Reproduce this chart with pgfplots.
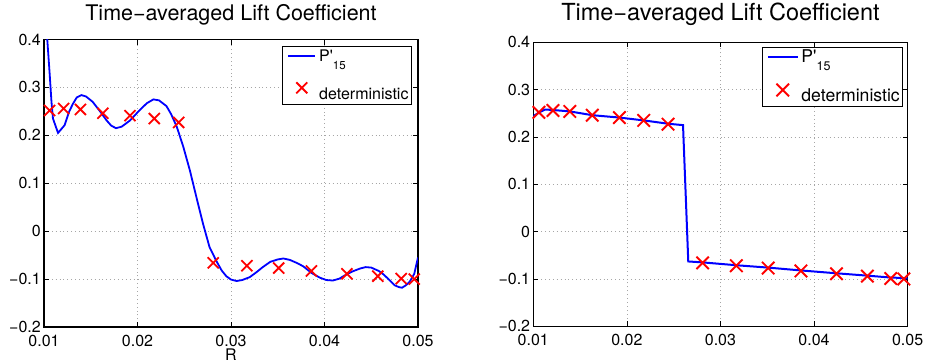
\documentclass[border=0pt]{standalone}
\usepackage{pgfplots}
\usepackage{pgfplotstable}
\pgfplotsset{compat=1.18}
\usepackage{fontspec}
\setmainfont{TeX Gyre Heros}

\pgfplotstableread{
x y
0.0100 0.500
0.01035 0.400
0.01060 0.330
0.01080 0.270
0.01096 0.235
0.01150 0.205
0.01220 0.221
0.01270 0.250
0.01310 0.266
0.01350 0.279
0.01400 0.284
0.01450 0.281
0.01520 0.270
0.01600 0.250
0.01670 0.231
0.01720 0.220
0.01770 0.215
0.01830 0.218
0.01920 0.231
0.02020 0.252
0.02100 0.267
0.02170 0.275
0.02230 0.273
0.02310 0.261
0.02360 0.244
0.02420 0.218
0.02490 0.176
0.02560 0.127
0.02630 0.071
0.02700 0.016
0.02770 -0.033
0.02840 -0.061
0.02900 -0.082
0.02950 -0.094
0.03000 -0.101
0.03060 -0.104
0.03120 -0.102
0.03200 -0.096
0.03270 -0.086
0.03340 -0.075
0.03420 -0.064
0.03500 -0.059
0.03560 -0.057
0.03630 -0.060
0.03700 -0.066
0.03770 -0.073
0.03860 -0.087
0.03950 -0.097
0.04020 -0.102
0.04090 -0.103
0.04160 -0.099
0.04220 -0.092
0.04300 -0.084
0.04380 -0.078
0.04440 -0.075
0.04500 -0.076
0.04580 -0.083
0.04630 -0.090
0.04700 -0.103
0.04750 -0.113
0.04800 -0.117
0.04830 -0.118
0.04870 -0.113
0.04910 -0.106
0.04960 -0.089
0.05000 -0.055
}\pceleft

\pgfplotstableread{
x y
0.01000 0.244
0.01064 0.252
0.01125 0.258
0.01210 0.257
0.01390 0.254
0.01630 0.246
0.01920 0.241
0.02180 0.235
0.02440 0.228
0.02600 0.225
0.02656 -0.063
0.02810 -0.065
0.03170 -0.071
0.03510 -0.076
0.03860 -0.082
0.04240 -0.088
0.04570 -0.093
0.04820 -0.097
0.04960 -0.098
0.05000 -0.099
}\pceright

\pgfplotstableread{
x y
0.0106 0.252
0.0121 0.256
0.0139 0.254
0.0163 0.246
0.0192 0.241
0.0218 0.235
0.0244 0.227
0.0281 -0.066
0.0317 -0.072
0.0351 -0.077
0.0386 -0.083
0.0424 -0.089
0.0457 -0.094
0.0482 -0.099
0.0496 -0.100
}\determ

\pgfplotsset{
  liftstyle/.style={
    scale only axis,
    xmin=0.01, xmax=0.05, ymin=-0.2, ymax=0.4,
    scaled ticks=false,
    xtick={0.01,0.02,0.03,0.04,0.05},
    xticklabels={0.01,0.02,0.03,0.04,0.05},
    ytick={-0.2,-0.1,0,0.1,0.2,0.3,0.4},
    yticklabels={−0.2,−0.1,0,0.1,0.2,0.3,0.4},
    xtick pos=both, ytick pos=both,
    xticklabel pos=lower, yticklabel pos=left,
    tick align=inside,
    major tick length=5bp,
    tick style={black, line width=0.7bp},
    axis line style={black, line width=1.1bp},
    grid=major,
    major grid style={line width=0.7bp, gray!70, dash pattern=on 0.9bp off 3bp},
    ticklabel style={font=\fontsize{16bp}{16bp}\selectfont, inner sep=0pt},
    xticklabel style={yshift=-8bp},
    yticklabel style={xshift=-3bp},
    title style={at={(axis description cs:0.5,1)}, anchor=base, inner sep=0pt},
    legend cell align=left,
    clip mode=individual,
  }
}

\begin{document}
\begin{tikzpicture}
\useasboundingbox (-44bp,-36bp) rectangle (883bp,327bp);
% left
\begin{axis}[liftstyle,
  at={(0bp,0bp)}, anchor=south west,
  width=374bp, height=287.5bp,
  title={Time−averaged Lift Coefficient},
  title style={font=\fontsize{21.5bp}{21.5bp}\selectfont, yshift=13bp},
  xlabel={R},
  xlabel style={at={(axis description cs:0.5,0)}, anchor=north, inner sep=0pt, yshift=-22bp, font=\fontsize{16bp}{16bp}\selectfont},
  legend style={at={(1,1)}, anchor=north east, xshift=-6bp, yshift=-6.7bp,
    font=\fontsize{16bp}{16bp}\selectfont, draw=black, line width=1bp,
    inner xsep=3bp, inner ysep=3bp, row sep=17.7bp, column sep=3bp,
    nodes={inner xsep=0pt, inner ysep=0pt, text height=12bp, text depth=2bp}},
]
\addplot[blue, line width=1.8bp, no markers,
  legend image code/.code={\path[draw=none] (-2.3bp,0bp) -- (27bp,0bp); \draw[blue, line width=1.8bp] (0bp,1bp) -- (27bp,1bp);}]
  table[x=x,y=y] {\pceleft};
\addlegendentry{P\textquotesingle\raisebox{-7.3bp}{\fontsize{11.5bp}{11.5bp}\selectfont 15}}
\addplot[red, only marks, mark=x, mark size=7.8bp, mark options={line width=1.8bp},
  legend image code/.code={\path[draw=none] (-2.3bp,0bp) -- (27bp,0bp); \draw[red, line width=1.8bp] (8bp,1.1bp) -- (19bp,12.1bp) (8bp,12.1bp) -- (19bp,1.1bp);}]
  table[x=x,y=y] {\determ};
\addlegendentry{deterministic}
\end{axis}
% right
\begin{axis}[liftstyle,
  at={(489.3bp,0.7bp)}, anchor=south west,
  width=374.3bp, height=284bp,
  title={Time−averaged Lift Coefficient},
  title style={font=\fontsize{23.5bp}{23.5bp}\selectfont, yshift=16.3bp},
  legend style={at={(1,1)}, anchor=north east, xshift=-4.4bp, yshift=-4.4bp,
    font=\fontsize{17.6bp}{17.6bp}\selectfont, draw=black, line width=1bp,
    inner xsep=3bp, inner ysep=3bp, row sep=18.6bp, column sep=2.7bp,
    nodes={inner xsep=0pt, inner ysep=0pt, text height=12bp, text depth=2bp}},
]
\addplot[blue, line width=2bp, no markers,
  legend image code/.code={\path[draw=none] (-2.6bp,0bp) -- (30bp,0bp); \draw[blue, line width=2bp] (0bp,0bp) -- (30bp,0bp);}]
  table[x=x,y=y] {\pceright};
\addlegendentry{P\textquotesingle\raisebox{-8bp}{\fontsize{12.5bp}{12.5bp}\selectfont 15}}
\addplot[red, only marks, mark=x, mark size=8.8bp, mark options={line width=1.9bp},
  legend image code/.code={\path[draw=none] (-2.6bp,0bp) -- (30bp,0bp); \draw[red, line width=1.9bp] (8.7bp,0.3bp) -- (21.3bp,12.9bp) (8.7bp,12.9bp) -- (21.3bp,0.3bp);}]
  table[x=x,y=y] {\determ};
\addlegendentry{deterministic}
\end{axis}
\end{tikzpicture}
\end{document}
